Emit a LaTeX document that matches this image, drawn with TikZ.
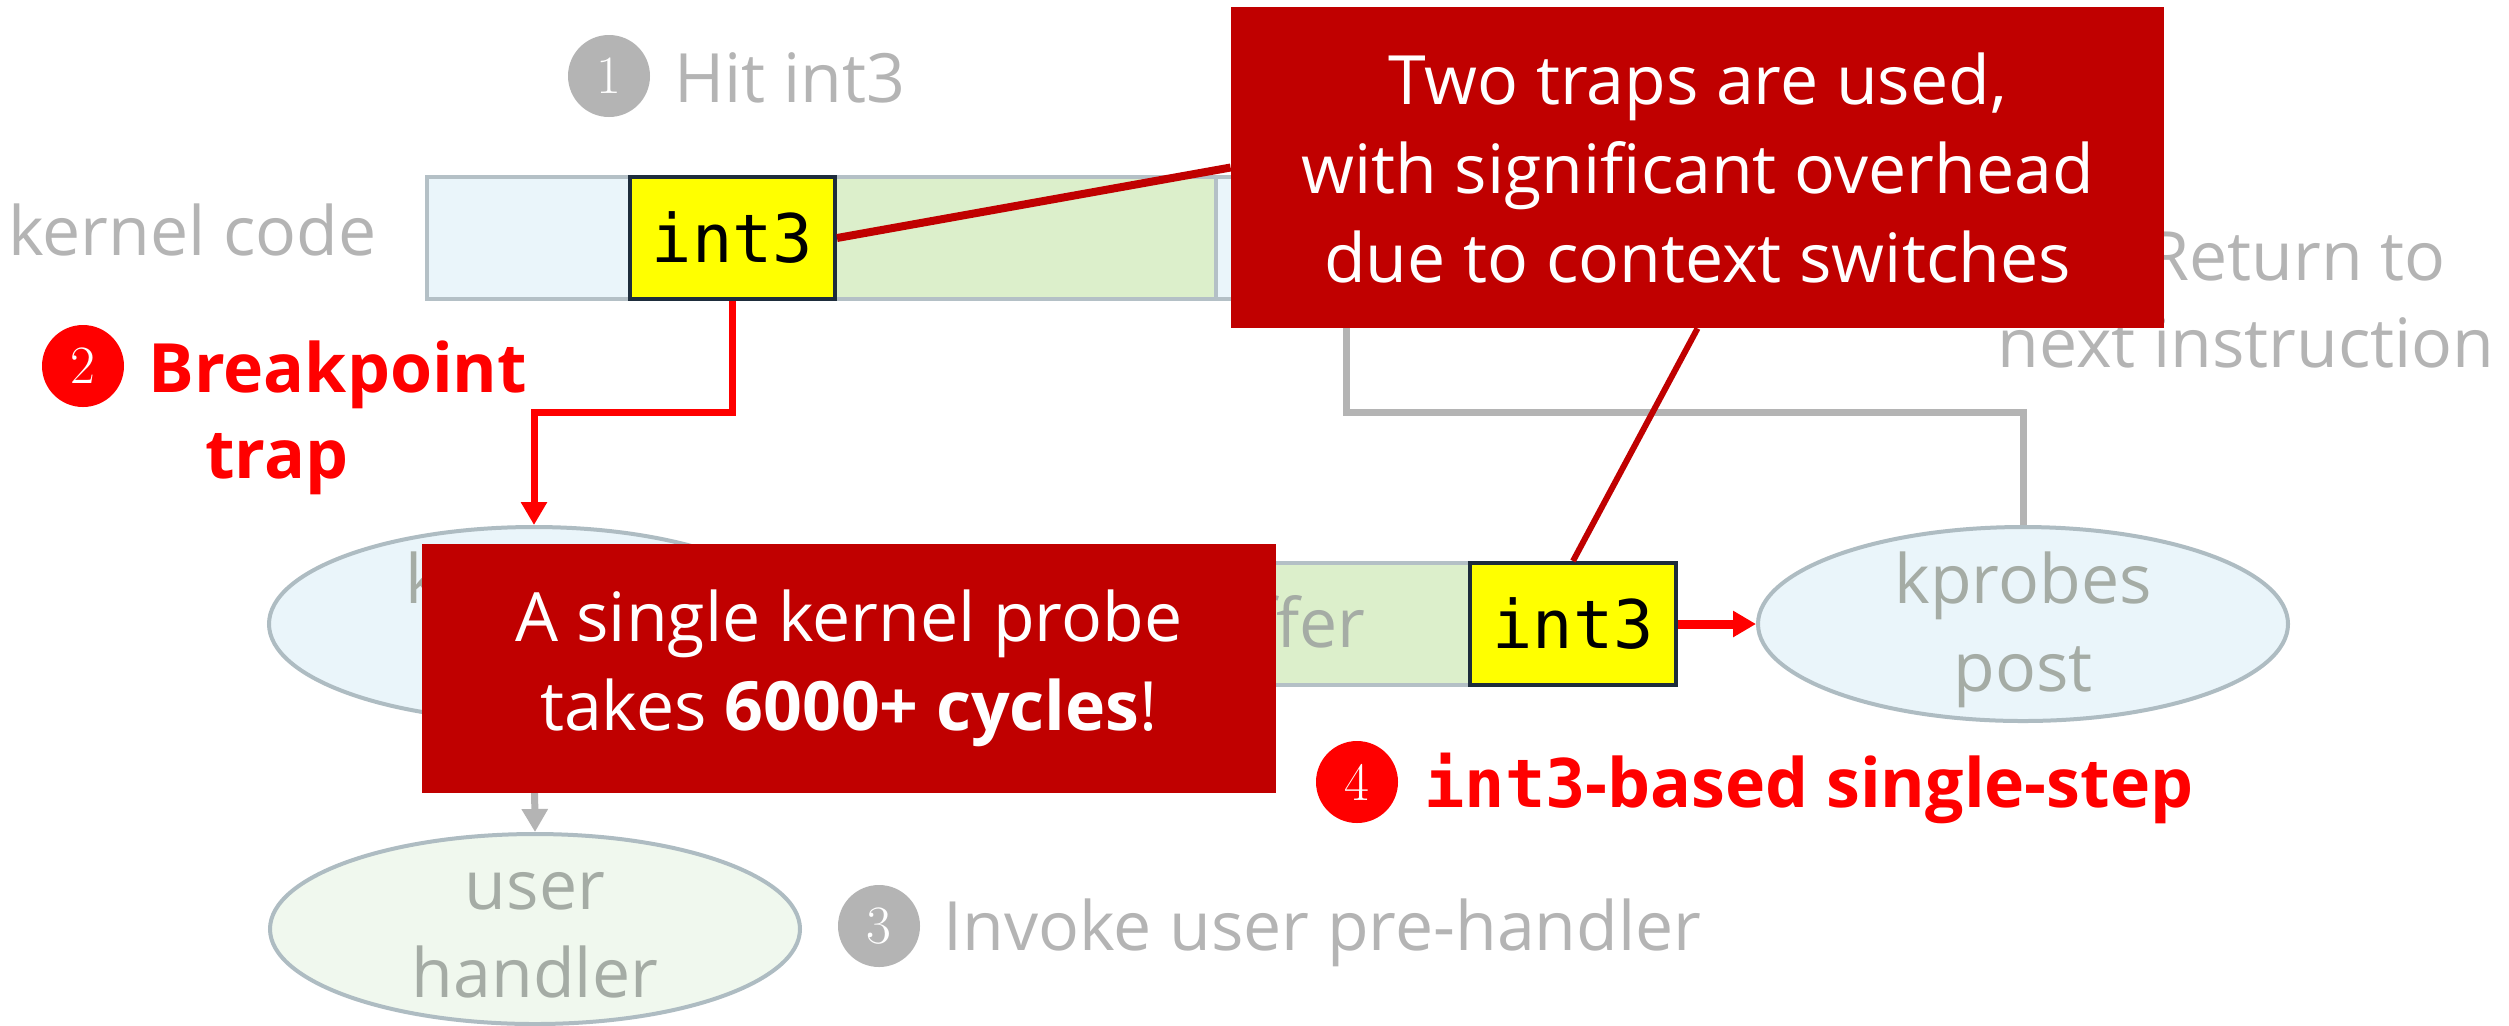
\documentclass[tikz,border=0pt]{standalone}
\usepackage{fontspec}
\newfontfamily\osans{Open Sans}
\newfontfamily\dmono{DejaVu Sans Mono}
\usetikzlibrary{arrows.meta,shapes.geometric,calc}
\definecolor{lgray}{RGB}{180,180,180}
\definecolor{callred}{RGB}{192,0,0}
\definecolor{bred}{RGB}{255,0,0}
\definecolor{lblue}{RGB}{234,245,250}
\definecolor{lgreen}{RGB}{220,239,203}
\definecolor{ugreen}{RGB}{240,248,238}
\definecolor{barline}{RGB}{180,192,198}
\definecolor{ellline}{RGB}{174,188,194}
\definecolor{darkline}{RGB}{30,45,60}
\definecolor{elltext}{RGB}{165,172,165}
\definecolor{byellow}{RGB}{255,255,0}
\pgfdeclarelayer{front}
\pgfsetlayers{main,front}
\begin{document}
\begin{tikzpicture}[x=0.5pt,y=-0.5pt,
  seg/.style={draw=barline, line width=2pt, minimum height=61pt, inner sep=0pt},
  blueseg/.style={seg, fill=lblue},
  greenseg/.style={seg, fill=lgreen},
  intbox/.style={seg, fill=byellow, draw=darkline, text=black, font=\dmono\fontsize{33.5}{40}\selectfont},
  ell/.style={ellipse, draw=ellline, line width=2pt, minimum width=265pt, minimum height=97pt, inner sep=0pt},
  elltxt/.style={font=\osans\fontsize{34}{44}\selectfont, text=elltext, align=center, inner sep=0pt},
  graytext/.style={font=\osans\fontsize{34}{44}\selectfont, text=lgray, inner sep=0pt},
  redtext/.style={font=\osans\bfseries\fontsize{34}{44}\selectfont, text=bred, inner sep=0pt},
  num/.style={circle, minimum size=41pt, inner sep=0pt, text=white, font=\rmfamily\fontsize{27}{30}\selectfont},
  callout/.style={fill=callred, inner sep=0pt, text=white, align=center, font=\osans\fontsize{34}{44.5}\selectfont},
  redarrow/.style={draw=bred, line width=3.5pt, -{Triangle[length=11.5pt,width=12.5pt]}},
  grayarrow/.style={draw=lgray, line width=3.5pt, -{Triangle[length=11.5pt,width=12.5pt]}}
]
\fill[white] (0,0) rectangle (2509,1025);
\useasboundingbox (0,0) rectangle (2509,1025);

% callouts (front layer)
\begin{pgfonlayer}{front}
\node[callout, minimum width=466.5pt, minimum height=160.5pt] (c1) at (1697.5,167.5)
  {Two traps are used,\\with significant overhead\\due to context switches};
\node[callout, minimum width=427pt, minimum height=124.5pt] (c2) at (849,668.5)
  {A single kernel probe\\takes {\bfseries 6000+ cycles}!};
\end{pgfonlayer}

% kernel code bar
\node[graytext, anchor=base west] (kc) at (8,255) {kernel code};
\node[blueseg, minimum width=101.5pt] (k1) at (528.5,238) {};
\node[greenseg, minimum width=190.5pt] (k2) at (1025.5,238) {};
\node[blueseg, minimum width=130pt] (k3) at (1346,238) {};
\node[intbox, minimum width=102.5pt] (kint) at (732.5,238) {int3};

% buffer bar
\node[greenseg, minimum width=335.5pt] (b1) at (1134.5,624) {};
\node[elltxt, anchor=base east] (bt) at (1366,647) {buffer};
\node[intbox, minimum width=103pt] (bint) at (1573,624) {int3};

% ellipses
\node[ell, fill=lblue] (pre) at (534,624) {};
\node[elltxt] (pret) at (534,630) {kprobes\\pre};
\node[ell, fill=lblue] (post) at (2023,624) {};
\node[elltxt] (postt) at (2023,630) {kprobes\\post};
\node[ell, fill=ugreen, minimum height=95pt] (user) at (535,929) {};
\node[elltxt] (usert) at (535,935) {user\\handler};

% connectors
\coordinate (m1) at (0,412);
\draw[redarrow] (kint.south) -- (kint.south |- m1) -| (pre.north);
\draw[grayarrow] (pre.south) -- (user.north);
\draw[redarrow, line width=4.5pt] (bint.east) -- (post.west);
\draw[grayarrow] (post.north) -- (post.north |- m1) -| (k3.south);

% step labels
\node[num, fill=lgray] (n1) at (609,76) {1};
\node[graytext, anchor=base west] (l1) at (674,102) {Hit int3};
\node[num, fill=bred] (n2) at (83,366) {2};
\node[redtext, anchor=base west] (l2a) at (148,392) {Breakpoint};
\node[redtext, anchor=base] (l2b) at (277,478) {trap};
\node[num, fill=lgray] (n3) at (879,926) {3};
\node[graytext, anchor=base west] (l3) at (943,950) {Invoke user pre-handler};
\node[num, fill=bred] (n4) at (1357,782) {4};
\node[redtext, anchor=base west] (l4) at (1424,807) {{\dmono\bfseries\fontsize{33.5}{40}\selectfont int3}-based single-step};
\node[graytext, anchor=base east] (l5a) at (2446,280) {Return to};
\node[graytext, anchor=base] (l5b) at (2246,367) {next instruction};

% callout pointers
\draw[callred, line width=4pt] (kint.east) -- (c1.west);
\draw[callred, line width=3pt] (c1.south) -- (bint.north);
\end{tikzpicture}
\end{document}
